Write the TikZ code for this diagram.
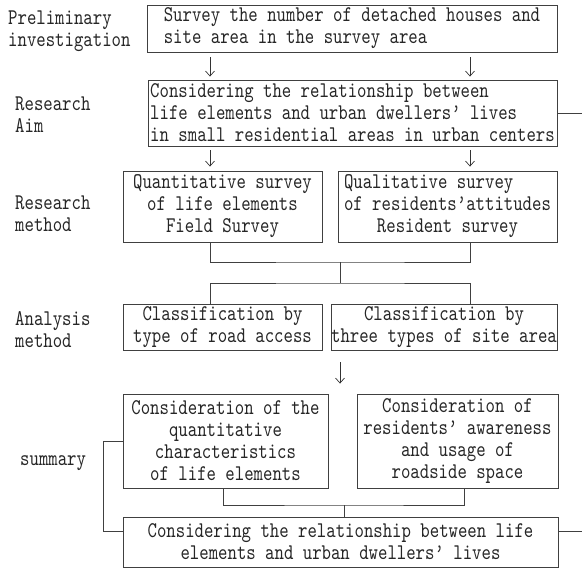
\documentclass[tikz,border=0pt]{standalone}
\usepackage{fontspec}
\usetikzlibrary{arrows.meta}
\newfontfamily\flowfont{lmmono10-regular.otf}[FakeStretch=0.8]
\begin{document}
\begin{tikzpicture}[x=1pt,y=-1pt,
  every node/.style={font=\flowfont\fontsize{22.4}{22}\selectfont,text=black!85},
  box/.style={draw=black!75,line width=0.9pt,inner sep=0pt,align=center},
  stage/.style={anchor=west,align=left,inner sep=0pt},
  link/.style={draw=black!75,line width=0.9pt},
  arr/.style={-{Straight Barb[length=5pt,width=9pt]},line width=0.7pt,black!80}]
\useasboundingbox (0,0) rectangle (582,568);
\coordinate (lcol) at (210,0); \coordinate (rcol) at (470,0);
\coordinate (edge) at (582,0); \coordinate (lbar) at (103,0);
\coordinate (j1) at (340,262); \coordinate (j2) at (340,283);
\coordinate (j3) at (344,505);
% stage names
\node[stage] (pre) at (8,31) {Preliminary\\investigation};
\node[stage] (aim) at (15,115) {Research\\Aim};
\node[stage] (meth) at (15,213.5) {Research\\method};
\node[stage] (ana) at (15,330) {Analysis\\method};
\node[stage] (sum) at (20,463) {summary};
% boxes
\node[box,align=left,minimum width=410pt,minimum height=47pt] (b1) at (352,28.5)
  {Survey the number of detached houses and\\site area in the survey area};
\node[box,align=left,minimum width=409pt,minimum height=66pt] (b2) at (352.5,113)
  {Considering the relationship between\\life elements and urban dwellers’ lives\\in small residential areas in urban centers};
\node[box,minimum width=199pt,minimum height=71pt] (b3) at (222.5,206.5)
  {Quantitative survey\\of life elements\\Field Survey};
\node[box,minimum width=219pt,minimum height=71pt] (b4) at (447.5,206.5)
  {Qualitative survey\phantom{xxxx}\\of residents’attitudes\\Resident survey};
\node[box,minimum width=199pt,minimum height=46pt] (b5) at (222.5,327)
  {Classification by\\type of road access};
\node[box,minimum width=226pt,minimum height=46pt] (b6) at (444,327)
  {Classification by\\three types of site area};
\node[box,minimum width=205pt,minimum height=94pt] (b7) at (225.5,441)
  {Consideration of the\\quantitative\\characteristics\\of life elements};
\node[box,minimum width=201pt,minimum height=94pt] (b8) at (457.5,441)
  {Consideration of\\residents’ awareness\\and usage of\\roadside space};
\node[box,minimum width=435pt,minimum height=50pt] (b9) at (340.5,542)
  {Considering the relationship between life\\elements and urban dwellers’ lives};
% arrows
\foreach \c in {lcol,rcol} {
  \draw[arr,shorten <=5pt,shorten >=3pt] (b1.south -| \c) -- (b2.north -| \c);
  \draw[arr,shorten <=4pt,shorten >=4pt] (b2.south -| \c) -- (b3.north -| \c);
}
\draw[arr,shorten <=12pt,shorten >=10pt] (j2 |- b6.south) -- (j2 |- b7.north);
% brackets
\draw[link] (b3.south -| lcol) |- (j1) -| (b4.south -| rcol);
\draw[link] (j1) -- (j2);
\draw[link] (b5.north -| lcol) |- (j2) -| (b6.north -| rcol);
\draw[link] (b7.south -| 223,0) |- (j3) -| (b8.south -| 464,0);
\draw[link] (j3) -- (j3 |- b9.north);
\draw[link] (b7.west) -- (b7.west -| lbar) |- ([yshift=11pt]b9.west);
\draw[link] (b2.east) -- (b2.east -| edge);
\draw[link] ([yshift=11pt]b9.east) -- ([yshift=11pt]b9.east -| edge);
\end{tikzpicture}
\end{document}
